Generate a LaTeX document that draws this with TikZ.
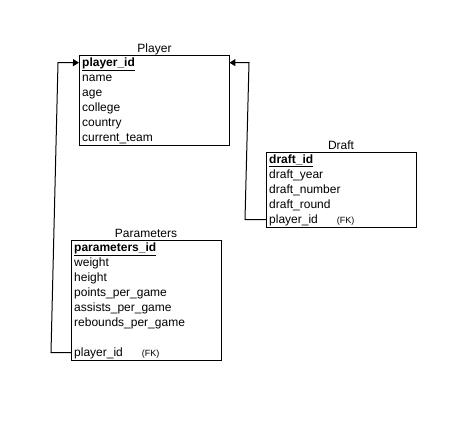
\documentclass[tikz,border=0pt]{standalone}
\usepackage{fontspec}
\setmainfont{Liberation Sans}
\usetikzlibrary{arrows.meta}
\begin{document}
\begin{tikzpicture}[x=1pt,y=-1pt,
  tbl/.style={draw, line width=1pt, minimum width=150pt, inner sep=0pt, anchor=north west},
  rowtext/.style={anchor=north west, inner xsep=3pt, inner ysep=0pt, text width=144pt, align=left,
     minimum height=15pt, text height=10pt, text depth=2pt, font=\fontsize{12}{14}\selectfont},
  ttl/.style={anchor=base, inner sep=0pt, font=\fontsize{12}{14}\selectfont},
  conn/.style={line width=1pt, -{Triangle[length=6pt,width=7pt]}},
]
\useasboundingbox (0,0) rectangle (460,420);
\newcommand{\fk}{\hspace{19pt}{\fontsize{9}{10}\selectfont(FK)}}
\newcommand{\pk}[1]{\underline{\textbf{#1}}}

% Player
\node[tbl, minimum height=90pt] (player) at (79,55) {};
\node[ttl] (playerT) at (154.5,52.5) {Player};
\node[rowtext] (plPid) at (79,55) {\pk{player\_id}};
\node[rowtext] (plName) at (79,70) {name};
\node[rowtext] (plAge) at (79,85) {age};
\node[rowtext] (plCollege) at (79,100) {college};
\node[rowtext] (plCountry) at (79,115) {country};
\node[rowtext] (plTeam) at (79,130) {current\_team};

% Draft
\node[tbl, minimum height=75pt] (draft) at (266,152) {};
\node[ttl] (draftT) at (341,149.5) {Draft};
\node[rowtext] (drId) at (266,152) {\pk{draft\_id}};
\node[rowtext] (drYear) at (266,167) {draft\_year};
\node[rowtext] (drNum) at (266,182) {draft\_number};
\node[rowtext] (drRound) at (266,197) {draft\_round};
\node[rowtext] (drPid) at (266,212) {player\_id\fk};

% Parameters
\node[tbl, minimum height=120pt] (param) at (71,240) {};
\node[ttl] (paramT) at (146,237.5) {Parameters};
\node[rowtext] (paId) at (71,240) {\pk{parameters\_id}};
\node[rowtext] (paWeight) at (71,255) {weight};
\node[rowtext] (paHeight) at (71,270) {height};
\node[rowtext] (paPts) at (71,285) {points\_per\_game};
\node[rowtext] (paAst) at (71,300) {assists\_per\_game};
\node[rowtext] (paReb) at (71,315) {rebounds\_per\_game};
\node[rowtext] (paPid) at (71,345) {player\_id\fk};

% connectors
\coordinate (l1) at (51,352.5);
\coordinate (l2) at (58,62.5);
\coordinate (r1) at (245,219.5);
\coordinate (r2) at (249,62.5);
\draw[conn] (paPid.west) -- (l1) -- (l2) -- (plPid.west);
\draw[conn] (drPid.west) -- (r1) -- (r2) -- (plPid.east);
\end{tikzpicture}
\end{document}
